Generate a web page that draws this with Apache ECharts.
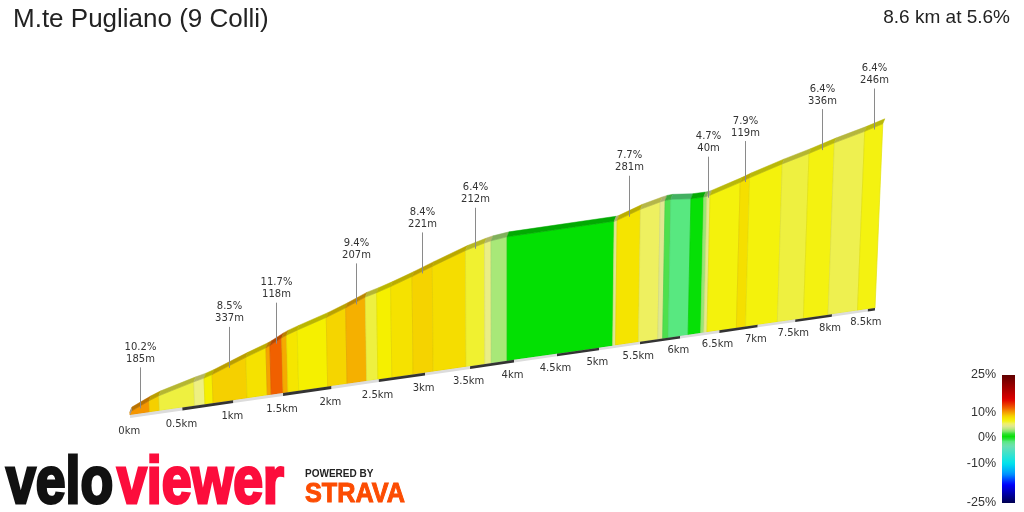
<!DOCTYPE html>
<html>
<head>
<meta charset="utf-8">
<script src="https://cdn.jsdelivr.net/npm/echarts@6/dist/echarts.min.js"></script>
<style>
  html, body { margin: 0; padding: 0; background: #fff; }
  #chart { width: 1024px; height: 512px; }
</style>
</head>
<body>
<div id="chart"></div>
<script>
// climb segments: end of each coloured band (km) and its gradient (%)
const segEndKm = [0.185, 0.28, 0.62, 0.72, 0.80, 1.137, 1.34, 1.38, 1.50, 1.55,
  1.66, 1.96, 2.163, 2.37, 2.49, 2.64, 2.87, 3.09, 3.455, 3.667,
  3.74, 3.92, 5.165, 5.20, 5.48, 5.72, 5.78, 5.85, 6.10, 6.26,
  6.30, 6.34, 6.72, 6.84, 7.26, 7.61, 7.946, 8.354, 8.6]
const segGrade = [10.2, 8.5, 6.0, 5.2, 7.0, 8.5, 7.8, 9.8, 11.7, 9.6,
  7.6, 7.0, 8.3, 9.4, 6.0, 7.0, 7.8, 8.4, 8.0, 6.2,
  5.0, 3.0, 0.8, 4.5, 7.7, 5.6, 4.5, 1.8, -1.5, 0.6,
  2.8, 4.7, 6.7, 7.9, 6.7, 6.0, 6.6, 5.8, 6.6]

const kmTicks = [0, 0.5, 1, 1.5, 2, 2.5, 3, 3.5, 4, 4.5, 5, 5.5, 6, 6.5, 7, 7.5, 8, 8.5]
const totalKm = 8.6

// steep sections called out above the profile
const labelKm = [0.093, 0.968, 1.44, 2.267, 2.98, 3.56, 5.34, 6.32, 6.78, 7.778, 8.477]
const labelGrade = ['10.2%', '8.5%', '11.7%', '9.4%', '8.4%', '6.4%', '7.7%', '4.7%', '7.9%', '6.4%', '6.4%']
const labelLength = ['185m', '337m', '118m', '207m', '221m', '212m', '281m', '40m', '119m', '336m', '246m']

const legendValues = [25, 10, 0, -10, -25]
const legendLabels = ['25%', '10%', '0%', '-10%', '-25%']

// ---- styling / projection constants ----
const GRADE_STOPS = [
  [-25, [0, 0, 80]], [-18, [0, 0, 255]], [-14, [0, 150, 255]], [-10, [0, 228, 236]],
  [-3, [112, 224, 176]], [-1.5, [88, 232, 128]], [0, [16, 224, 16]], [1, [0, 224, 0]],
  [2, [96, 224, 96]], [3, [168, 232, 120]], [4.5, [224, 232, 144]], [5.2, [238, 240, 128]],
  [6.0, [238, 240, 64]], [6.6, [244, 242, 16]], [7.0, [245, 240, 0]], [7.8, [245, 226, 0]],
  [8.5, [245, 208, 0]], [9.4, [245, 176, 0]], [10.2, [245, 150, 0]], [11.7, [240, 96, 0]],
  [15, [224, 0, 0]], [25, [96, 0, 0]]
]
// where the legend values sit on the colour bar (0 = top, 1 = bottom)
const LEGEND_SCALE = [[25, 0], [10, 0.29], [0, 0.49], [-10, 0.69], [-25, 1]]

const PERSP = 0.026       // perspective shrink per km
const FLOOR_RISE = 33.75  // floor line rise (m units) per projected km
const BASE_H = 6.5        // face height at the lowest point (m)
const VANISH_X = 3.566
const TILT = 5.2e-5
const DEPTH_X = 0.019
const DEPTH_Y = 11

const segStartKm = segEndKm.map((e, i) => i ? segEndKm[i - 1] : 0)
const elevation = [0]
segEndKm.forEach((e, i) => elevation.push(elevation[i] + (e - segStartKm[i]) * 10 * segGrade[i]))

function elevAt(d) {
  for (let i = 0; i < segEndKm.length; i++) {
    if (d <= segEndKm[i]) {
      return elevation[i] + (d - segStartKm[i]) * 10 * segGrade[i]
    }
  }
  return elevation[elevation.length - 1]
}

function gradeRgb(g) {
  if (g <= GRADE_STOPS[0][0]) return GRADE_STOPS[0][1]
  for (let i = 1; i < GRADE_STOPS.length; i++) {
    const [g1, c1] = GRADE_STOPS[i]
    if (g <= g1) {
      const [g0, c0] = GRADE_STOPS[i - 1]
      const t = (g - g0) / (g1 - g0)
      return c0.map((v, k) => Math.round(v + (c1[k] - v) * t))
    }
  }
  return GRADE_STOPS[GRADE_STOPS.length - 1][1]
}
function rgb(c, f) {
  f = f || 1
  return 'rgb(' + c.map(v => Math.round(v * f)).join(',') + ')'
}

// world (km along, height above floor in m) -> picture plane
function project(d, h, back) {
  const s = 1 / (1 + PERSP * d)
  const X0 = d * s
  const Hs = h * s
  let X = X0 + Hs * (X0 - VANISH_X) * TILT
  let Y = FLOOR_RISE * X0 + Hs
  if (back) {
    X += DEPTH_X
    Y += DEPTH_Y
  }
  return [X, Y]
}

let renderSegment = (params, api) => {
  const d0 = api.value(0), d1 = api.value(1), g = api.value(2)
  const e0 = api.value(3), e1 = api.value(4)
  const bl0 = api.coord(project(d0, 0)), bl1 = api.coord(project(d1, 0))
  const t0 = api.coord(project(d0, BASE_H + e0)), t1 = api.coord(project(d1, BASE_H + e1))
  const b0 = api.coord(project(d0, BASE_H + e0, true)), b1 = api.coord(project(d1, BASE_H + e1, true))
  const c = gradeRgb(g)
  const children = [
    { type: 'polygon', z2: 1, shape: { points: [bl0, bl1, t1, t0] },
      style: { fill: rgb(c), stroke: rgb(c, 0.93), lineWidth: 0.7 } },
    { type: 'polygon', z2: 2, shape: { points: [t0, t1, b1, b0] },
      style: { fill: rgb(c, 0.76), stroke: rgb(c, 0.76), lineWidth: 0.5 } }
  ]
  if (params.dataIndex === 0) {
    const bb0 = api.coord(project(d0, 0, true))
    children.push({ type: 'polygon', z2: 3, shape: { points: [bl0, t0, b0, bb0] },
      style: { fill: '#9a9a9a' } })
  }
  return { type: 'group', children: children }
}

let renderFloor = (params, api) => {
  const d0 = api.value(0), d1 = api.value(1)
  const p = [
    api.coord(project(d0, 0)), api.coord(project(d1, 0)),
    api.coord(project(d1, -6.6)), api.coord(project(d0, -6.6))
  ]
  return {
    type: 'polygon', shape: { points: p },
    style: { fill: params.dataIndex % 2 ? '#333333' : '#dcdcdc' }
  }
}

let renderKm = (params, api) => {
  const d = api.value(0)
  const p = api.coord(project(d, -37))
  return {
    type: 'text', x: p[0] - 1.5, y: p[1],
    style: { text: d + 'km', align: 'center', verticalAlign: 'middle',
      font: '10px "DejaVu Sans"', fill: '#333' }
  }
}

let renderLabel = (params, api) => {
  const d = api.value(0)
  const p = api.coord(project(d, BASE_H + elevAt(d)))
  const x = Math.round(p[0]) + 0.5
  return {
    type: 'group',
    children: [
      { type: 'line', shape: { x1: x, y1: p[1] + 2, x2: x, y2: p[1] - 39 },
        style: { stroke: '#8a8a8a', lineWidth: 1 } },
      { type: 'text', x: x, y: p[1] - 41,
        style: { text: labelGrade[params.dataIndex] + '\n' + labelLength[params.dataIndex],
          align: 'center', verticalAlign: 'bottom', lineHeight: 12,
          font: '10px "DejaVu Sans"', fill: '#333' } }
    ]
  }
}

let segData = segEndKm.map((e, i) => [segStartKm[i], e, segGrade[i], elevation[i], elevation[i + 1]])
let floorData = kmTicks.map((k, i) => [k, i + 1 < kmTicks.length ? kmTicks[i + 1] : totalKm])

// colour bar
function legendPos(v) {
  for (let i = 1; i < LEGEND_SCALE.length; i++) {
    const [v0, p0] = LEGEND_SCALE[i - 1], [v1, p1] = LEGEND_SCALE[i]
    if (v >= v1) return p0 + (v0 - v) / (v0 - v1) * (p1 - p0)
  }
  return 1
}
function legendValue(p) {
  for (let i = 1; i < LEGEND_SCALE.length; i++) {
    const [v0, p0] = LEGEND_SCALE[i - 1], [v1, p1] = LEGEND_SCALE[i]
    if (p <= p1) return v0 + (p - p0) / (p1 - p0) * (v1 - v0)
  }
  return -25
}
const barStops = []
for (let i = 0; i <= 50; i++) {
  barStops.push({ offset: i / 50, color: rgb(gradeRgb(legendValue(i / 50))) })
}
const BAR = { x: 1002, y: 375, w: 13, h: 128 }

let chart = echarts.init(document.getElementById('chart'), null, { renderer: 'canvas' })

let option = {
  backgroundColor: '#fff',
  animation: false,
  grid: { left: 0, right: 0, top: 0, bottom: 0 },
  xAxis: { type: 'value', min: -1.2264, max: 8.434, show: false },
  yAxis: { type: 'value', min: -215.1, max: 920.2, show: false },
  series: [
    { type: 'custom', name: 'profile', renderItem: renderSegment, data: segData, z: 2, silent: true },
    { type: 'custom', name: 'floor', renderItem: renderFloor, data: floorData, z: 3, silent: true },
    { type: 'custom', name: 'km', renderItem: renderKm, data: kmTicks.map(v => [v]), z: 4, silent: true },
    { type: 'custom', name: 'climbs', renderItem: renderLabel, data: labelKm.map(v => [v]), z: 5, silent: true }
  ],
  graphic: {
    elements: [
      { type: 'text', x: 13, y: 20,
        style: { text: 'M.te Pugliano (9 Colli)', font: '26px "Liberation Sans"', fill: '#222',
          align: 'left', verticalAlign: 'middle' } },
      { type: 'text', x: 1010, y: 18,
        style: { text: '8.6 km at 5.6%', font: '19px "Liberation Sans"', fill: '#222',
          align: 'right', verticalAlign: 'middle' } },
      { type: 'rect', shape: { x: BAR.x, y: BAR.y, width: BAR.w, height: BAR.h },
        style: { fill: new echarts.graphic.LinearGradient(0, 0, 0, 1, barStops) } },
      ...legendValues.map((v, i) => ({
        type: 'text', x: 996, y: BAR.y + legendPos(v) * BAR.h,
        style: { text: legendLabels[i], font: '12.5px "Liberation Sans"', fill: '#333',
          align: 'right', verticalAlign: 'middle' }
      })),
      { type: 'text', x: 6, y: 485, scaleX: 0.8,
        style: { text: 'velo', font: 'bold 67px "Liberation Sans"', fill: '#111',
          stroke: '#111', lineWidth: 3, align: 'left', verticalAlign: 'middle' } },
      { type: 'text', x: 117, y: 485, scaleX: 0.8,
        style: { text: 'viewer', font: 'bold 67px "Liberation Sans"', fill: '#fc0d3c',
          stroke: '#fc0d3c', lineWidth: 3, align: 'left', verticalAlign: 'middle' } },
      { type: 'text', x: 305, y: 474,
        style: { text: 'POWERED BY', font: 'bold 10px "Liberation Sans"', fill: '#222',
          align: 'left', verticalAlign: 'middle' } },
      { type: 'text', x: 305, y: 494, scaleX: 0.9,
        style: { text: 'STRAVA', font: 'bold 28px "Liberation Sans"', fill: '#fc4c02',
          stroke: '#fc4c02', lineWidth: 1, align: 'left', verticalAlign: 'middle' } }
    ]
  }
}

chart.setOption(option)
</script>
</body>
</html>
